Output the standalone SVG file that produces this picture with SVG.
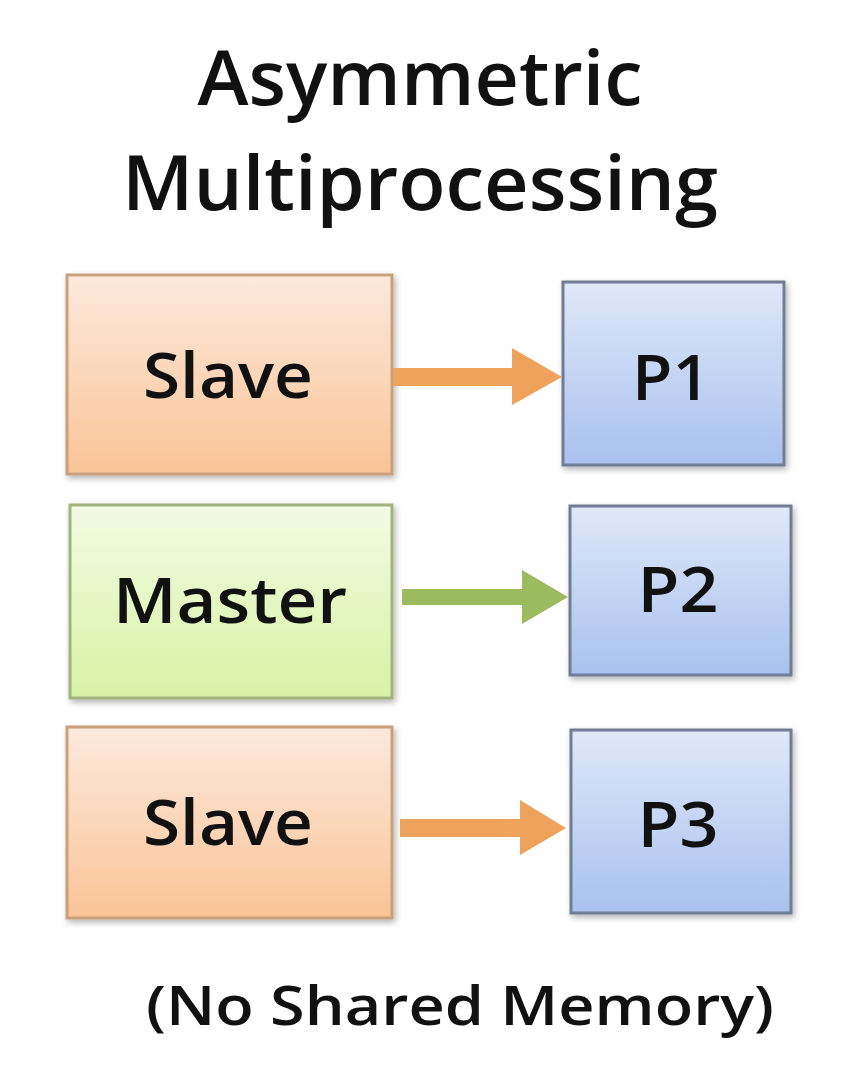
<svg xmlns="http://www.w3.org/2000/svg" width="868" height="1066" viewBox="0 0 868 1066">
<defs>
<linearGradient id="gOrange" x1="0" y1="0" x2="0" y2="1">
<stop offset="0" stop-color="#fde9dc"/><stop offset="1" stop-color="#f9c497"/>
</linearGradient>
<linearGradient id="gGreen" x1="0" y1="0" x2="0" y2="1">
<stop offset="0" stop-color="#f3fbe4"/><stop offset="1" stop-color="#d8f2a4"/>
</linearGradient>
<linearGradient id="gBlue" x1="0" y1="0" x2="0" y2="1">
<stop offset="0" stop-color="#dfe8f8"/><stop offset="1" stop-color="#a9c1ef"/>
</linearGradient>
<filter id="sh" x="-10%" y="-10%" width="130%" height="130%">
<feGaussianBlur in="SourceAlpha" stdDeviation="3"/>
<feOffset dx="2" dy="3" result="b"/>
<feComponentTransfer><feFuncA type="linear" slope="0.3"/></feComponentTransfer>
<feMerge><feMergeNode/><feMergeNode in="SourceGraphic"/></feMerge>
</filter>
</defs>
<style>
.t{font-family:"Open Sans","Noto Sans","Liberation Sans",sans-serif;fill:#111;text-anchor:middle}
.lbl{font-size:64px;font-weight:600}
.title{font-size:76px;font-weight:600}
.orange{fill:url(#gOrange);stroke:#c9a07c;stroke-width:3}
.green{fill:url(#gGreen);stroke:#a3b37f;stroke-width:3}
.blue{fill:url(#gBlue);stroke:#6f7d94;stroke-width:3}
.ao{fill:#efa25c}
.ag{fill:#9cba5e}
</style>
<rect width="868" height="1066" fill="#ffffff"/>
<g id="title">
<text class="t title" x="420" y="105" textLength="445" lengthAdjust="spacingAndGlyphs">Asymmetric</text>
<text class="t title" x="420" y="210" textLength="596" lengthAdjust="spacingAndGlyphs">Multiprocessing</text>
</g>
<g id="slave1">
<rect class="orange" x="67" y="275" width="325" height="199" filter="url(#sh)"/>
<text class="t lbl" x="228" y="398" textLength="170" lengthAdjust="spacingAndGlyphs">Slave</text>
</g>
<g id="master">
<rect class="green" x="70" y="505" width="322" height="193" filter="url(#sh)"/>
<text class="t lbl" x="230" y="623" textLength="234" lengthAdjust="spacingAndGlyphs">Master</text>
</g>
<g id="slave2">
<rect class="orange" x="67" y="727" width="325" height="191" filter="url(#sh)"/>
<text class="t lbl" x="228" y="845" textLength="170" lengthAdjust="spacingAndGlyphs">Slave</text>
</g>
<g id="p1">
<rect class="blue" x="563" y="282" width="221" height="183" filter="url(#sh)"/>
<text class="t lbl" x="671" y="400" textLength="78" lengthAdjust="spacingAndGlyphs">P1</text>
</g>
<g id="p2">
<rect class="blue" x="570" y="506" width="221" height="169" filter="url(#sh)"/>
<text class="t lbl" x="678" y="612" textLength="81" lengthAdjust="spacingAndGlyphs">P2</text>
</g>
<g id="p3">
<rect class="blue" x="571" y="730" width="220" height="183" filter="url(#sh)"/>
<text class="t lbl" x="678" y="847" textLength="81" lengthAdjust="spacingAndGlyphs">P3</text>
</g>
<g id="connectors">
<polygon class="ao" points="393,368 512,368 512,348 562,377 512,405 512,386 393,386"/>
<polygon class="ag" points="402,589 522,589 522,570 568,597 522,624 522,605 402,605"/>
<polygon class="ao" points="400,819 520,819 520,800 566,828 520,855 520,837 400,837"/>
</g>
<g id="note">
<text class="t" x="460" y="1025" font-size="54" font-weight="600" textLength="628" lengthAdjust="spacingAndGlyphs">(No Shared Memory)</text>
</g>
</svg>
